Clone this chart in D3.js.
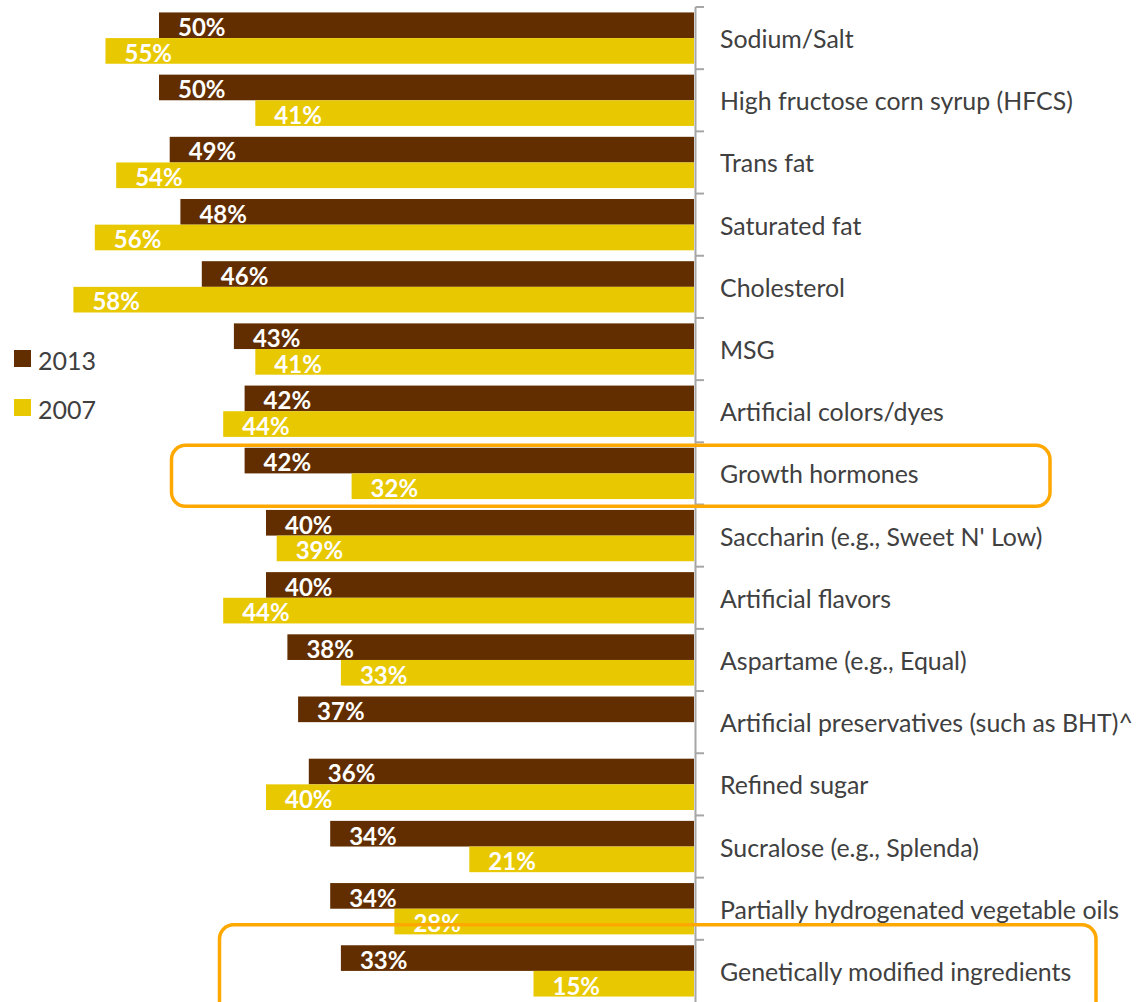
<!DOCTYPE html>
<html>
<head>
<meta charset="utf-8">
<script src="https://cdn.jsdelivr.net/npm/d3@7"></script>
<style>
  html, body { margin: 0; padding: 0; background: #ffffff; }
  svg { display: block; }
</style>
</head>
<body>
<svg id="chart" width="1139" height="1002"></svg>
<script>
// Ingredients people try to avoid, share of respondents, 2013 vs 2007
const categories = [
  "Sodium/Salt",
  "High fructose corn syrup (HFCS)",
  "Trans fat",
  "Saturated fat",
  "Cholesterol",
  "MSG",
  "Artificial colors/dyes",
  "Growth hormones",
  "Saccharin (e.g., Sweet N' Low)",
  "Artificial flavors",
  "Aspartame (e.g., Equal)",
  "Artificial preservatives (such as BHT)^",
  "Refined sugar",
  "Sucralose (e.g., Splenda)",
  "Partially hydrogenated vegetable oils",
  "Genetically modified ingredients"
];
const series = ["2013", "2007"];
const values2013 = [50, 50, 49, 48, 46, 43, 42, 42, 40, 40, 38, 37, 36, 34, 34, 33];
const values2007 = [55, 41, 54, 56, 58, 41, 44, 32, 39, 44, 33, null, 40, 21, 28, 15];
const highlighted = ["Growth hormones", "Genetically modified ingredients"];

const colors = { "2013": "#622E00", "2007": "#E8C800" };
const textGrey = "#404040";
const fontFamily = "Lato, 'Open Sans', sans-serif";

const svg = d3.select("#chart");

const axisX = 694;
const x = d3.scaleLinear().domain([0, 65]).range([axisX, axisX - 65 * 10.7]);

const y = d3.scaleBand()
  .domain(categories)
  .range([7, 1002])
  .paddingInner(0.175)
  .paddingOuter(0.0875);

const ySub = d3.scaleBand().domain(series).range([0, y.bandwidth()]);

const rows = categories.map((c, i) => ({
  category: c,
  bars: [
    { series: "2013", value: values2013[i] },
    { series: "2007", value: values2007[i] }
  ].filter(b => b.value != null)
}));

// bars
const groups = svg.append("g").selectAll("g.row")
  .data(rows)
  .join("g")
  .attr("class", "row")
  .attr("transform", d => `translate(0,${y(d.category)})`);

groups.selectAll("rect")
  .data(d => d.bars)
  .join("rect")
  .attr("x", d => x(d.value))
  .attr("y", d => ySub(d.series))
  .attr("width", d => x(0) - x(d.value))
  .attr("height", ySub.bandwidth())
  .attr("fill", d => colors[d.series]);

groups.selectAll("text.val")
  .data(d => d.bars)
  .join("text")
  .attr("class", "val")
  .attr("x", d => x(d.value) + 19)
  .attr("y", d => ySub(d.series) + ySub.bandwidth() - 2)
  .attr("fill", "#ffffff")
  .attr("font-family", fontFamily)
  .attr("font-weight", "bold")
  .attr("font-size", 24)
  .text(d => d.value + "%");

// category axis on the right of the bars
const axisG = svg.append("g");
axisG.append("line")
  .attr("x1", axisX + 1.5).attr("x2", axisX + 1.5)
  .attr("y1", 7).attr("y2", 1002)
  .attr("stroke", "#A6A6A6").attr("stroke-width", 2);

const boundaries = categories.map(c => y(c) - y.step() * y.paddingOuter());
axisG.selectAll("line.tick")
  .data(boundaries)
  .join("line")
  .attr("class", "tick")
  .attr("x1", axisX + 1.5).attr("x2", axisX + 10)
  .attr("y1", d => d).attr("y2", d => d)
  .attr("stroke", "#A6A6A6").attr("stroke-width", 2);

axisG.selectAll("text.cat")
  .data(categories)
  .join("text")
  .attr("class", "cat")
  .attr("x", 720)
  .attr("y", d => y(d) + y.bandwidth() / 2 + 10)
  .attr("fill", textGrey)
  .attr("font-family", fontFamily)
  .attr("font-size", 24.9)
  .text(d => d);

// legend
const legend = svg.append("g").selectAll("g")
  .data(series)
  .join("g")
  .attr("transform", (d, i) => `translate(14,${350 + i * 49})`);
legend.append("rect")
  .attr("width", 17).attr("height", 17)
  .attr("fill", d => colors[d]);
legend.append("text")
  .attr("x", 24).attr("y", 19.5)
  .attr("fill", textGrey)
  .attr("font-family", fontFamily)
  .attr("font-size", 25)
  .text(d => d);

// highlight frames around selected categories
const frames = [
  { category: highlighted[0], x0: 171.5, x1: 1050, dy0: 3, dy1: 64 },
  { category: highlighted[1], x0: 219.5, x1: 1096, dy0: -15, dy1: 80 }
];
svg.append("g").selectAll("rect")
  .data(frames)
  .join("rect")
  .attr("x", d => d.x0)
  .attr("y", d => y(d.category) - y.step() * y.paddingOuter() + d.dy0)
  .attr("width", d => d.x1 - d.x0)
  .attr("height", d => d.dy1 - d.dy0)
  .attr("rx", 14).attr("ry", 14)
  .attr("fill", "none")
  .attr("stroke", "#FFA800")
  .attr("stroke-width", 3.5);
</script>
</body>
</html>
